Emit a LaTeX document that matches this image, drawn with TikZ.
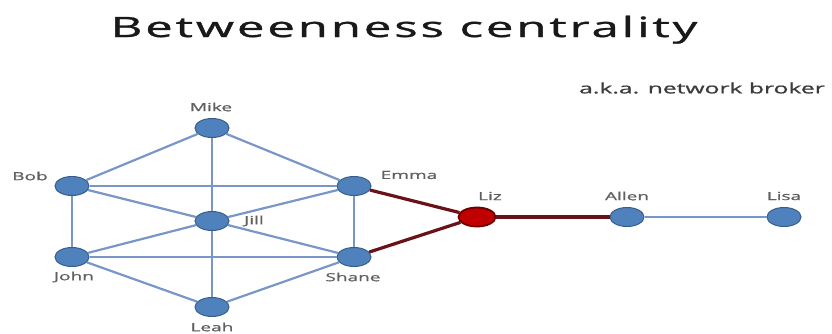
\documentclass[tikz,border=0pt]{standalone}
\usepackage{fontspec}
\usepackage{graphicx}
\usepackage{tikz}
\usetikzlibrary{positioning, shapes.geometric}
\newfontfamily\titlefont[LetterSpace=6, FakeBold=1]{Open Sans}
\newfontfamily\namefont[FakeBold=0.8]{Open Sans}
\newcommand\widen[2][1.7]{\scalebox{#1}[1]{#2}}
\definecolor{nodeblue}{RGB}{79,129,189}
\definecolor{nodeborder}{RGB}{56,93,138}
\definecolor{edgeblue}{RGB}{120,150,200}
\definecolor{brokerred}{RGB}{192,0,0}
\definecolor{brokerborder}{RGB}{110,0,0}
\definecolor{edgered}{RGB}{105,18,26}
\definecolor{labelgray}{RGB}{95,95,95}
\definecolor{titleblack}{RGB}{25,25,25}
\tikzset{
  person/.style={
    ellipse, draw=nodeborder, line width=1pt, fill=nodeblue,
    minimum width=34pt, minimum height=19pt, inner sep=0pt
  },
  broker/.style={person, draw=brokerborder, line width=1.8pt, fill=brokerred, minimum width=37pt},
  tie/.style={draw=edgeblue, line width=2.2pt},
  bridge/.style={draw=edgered, line width=3.2pt},
  weaktie/.style={draw=edgeblue, line width=1.4pt},
  lbl/.style={font=\namefont\fontsize{11.2}{13}\selectfont, text=labelgray, inner sep=0pt},
}

\begin{document}
\begin{tikzpicture}[x=1pt, y=1pt]
  \useasboundingbox (0,0) rectangle (832,333);

  % Title
  \node[font=\titlefont\fontsize{28}{32}\selectfont, text=titleblack, anchor=base] (title) at (404,296) {\widen[1.75]{Betweenness centrality}};
  \node[font=\namefont\fontsize{14.5}{17}\selectfont, text=titleblack!85] (aka) at (702,245) {\widen{a.k.a. network broker}};

  % People
  \node[person] (mike)  at (212,205) {};
  \node[person] (bob)   at (72,147)  {};
  \node[person] (emma)  at (354,147) {};
  \node[person] (jill)  at (212,112) {};
  \node[person] (john)  at (72,76)   {};
  \node[person] (shane) at (354,76)  {};
  \node[person] (leah)  at (212,26)  {};
  \node[broker] (liz)   at (477,116) {};
  \node[person] (allen) at (627,116) {};
  \node[person] (lisa)  at (784,116) {};

  % Names
  \node[lbl] (mike-l)  at (211,226) {\widen{Mike}};
  \node[lbl] (bob-l)   at (30,157)  {\widen{Bob}};
  \node[lbl] (emma-l)  at (409,158) {\widen{Emma}};
  \node[lbl] (jill-l)  at (254,112) {\widen{Jill}};
  \node[lbl] (john-l)  at (74,56)   {\widen{John}};
  \node[lbl] (shane-l) at (353,56)  {\widen{Shane}};
  \node[lbl] (leah-l)  at (212,6)   {\widen{Leah}};
  \node[lbl] (liz-l)   at (490,137) {\widen{Liz}};
  \node[lbl] (allen-l) at (627,137) {\widen{Allen}};
  \node[lbl] (lisa-l)  at (784,137) {\widen{Lisa}};

  % Ties inside the cluster
  \foreach \a/\b in {mike/bob, mike/emma, mike/jill, bob/emma, bob/jill, bob/john,
                     emma/jill, emma/shane, jill/john, jill/shane, jill/leah,
                     john/shane, john/leah, shane/leah} {
    \path[tie] (\a) -- (\b);
  }

  % Ties through the broker
  \path[bridge] (emma) -- (liz);
  \path[bridge] (shane) -- (liz);
  \path[bridge] (liz) -- (allen);
  \path[weaktie] (allen) -- (lisa);

\end{tikzpicture}
\end{document}
